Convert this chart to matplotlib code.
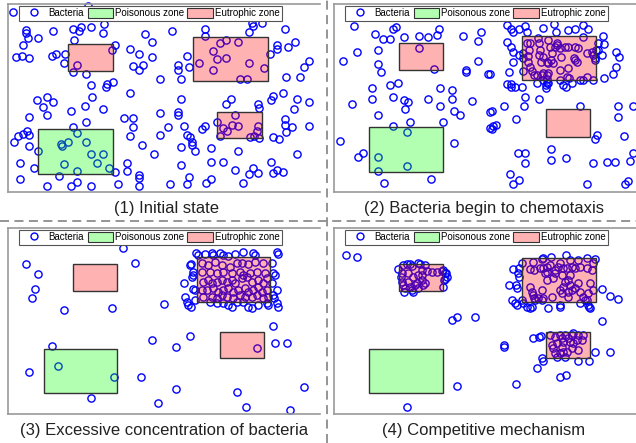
import numpy as np
import matplotlib.pyplot as plt
from matplotlib.patches import Rectangle, Patch
from matplotlib.lines import Line2D

plt.rcParams['font.family'] = ['Liberation Sans', 'DejaVu Sans']

# bacteria positions (x, y) in field units, y measured downward from the top
bacteria_1 = np.array([
    (13, 12), (88, 6), (104, 24), (81, 27), (79, 31), (73, 29), (91, 27), (26, 30), (26, 33), (53, 31),
    (103, 33), (28, 38), (38, 38), (145, 34), (152, 42), (74, 40), (23, 45), (115, 45), (112, 50), (130, 49),
    (16, 57), (22, 56), (29, 58), (52, 56), (56, 54), (65, 54), (139, 54), (152, 57), (64, 63), (77, 65),
    (133, 66), (143, 65), (139, 70), (73, 72), (86, 74), (160, 79), (107, 84), (113, 82), (106, 87), (91, 85),
    (130, 93), (92, 97), (37, 100), (47, 97), (53, 102), (43, 107), (47, 115), (85, 106), (103, 109), (71, 111),
    (160, 113), (29, 117), (124, 118), (133, 118), (86, 122), (133, 127), (73, 127), (168, 127), (27, 131), (23, 134),
    (18, 136), (14, 142), (29, 135), (77, 133), (130, 136), (160, 135), (61, 144), (68, 142), (62, 146), (86, 142),
    (29, 146), (38, 151), (142, 145), (91, 154), (103, 154), (154, 154), (97, 163), (20, 163), (64, 164), (127, 163),
    (127, 171), (34, 168), (77, 171), (109, 168), (115, 172), (59, 176), (139, 175), (139, 178), (20, 179), (77, 182),
    (71, 186), (47, 186), (91, 186), (118, 184), (139, 186), (170, 184),
    (277, 14), (252, 23), (262, 23), (253, 26), (285, 29), (249, 32), (205, 29), (205, 36), (172, 31), (226, 40),
    (220, 43), (238, 42), (213, 51), (217, 59), (226, 58), (199, 63), (249, 63), (213, 70), (264, 68), (240, 79),
    (247, 79), (277, 45), (277, 49), (288, 47), (295, 42), (270, 54), (187, 56), (178, 65), (178, 70), (189, 67),
    (309, 61), (304, 67), (181, 79), (286, 77), (300, 77), (181, 99), (231, 99), (226, 104), (258, 104), (259, 108),
    (271, 100), (273, 96), (283, 93), (297, 99), (309, 102), (294, 109), (178, 112), (178, 115), (235, 115), (217, 122),
    (205, 126), (202, 129), (232, 125), (238, 126), (223, 128), (227, 131), (220, 136), (258, 126), (257, 131), (250, 137),
    (254, 136), (259, 138), (285, 119), (285, 125), (292, 127), (286, 132), (309, 126), (184, 126), (187, 135), (190, 137),
    (192, 142), (192, 145), (195, 151), (181, 147), (211, 148), (238, 151), (273, 137), (279, 139), (297, 154), (211, 162),
    (223, 162), (271, 162), (181, 165), (235, 170), (253, 168), (249, 174), (258, 173), (277, 170), (273, 173), (283, 172),
    (189, 177), (187, 184), (206, 183), (211, 179), (243, 183),
])

bacteria_2 = np.array([
    (354, 26), (393, 29), (396, 27), (375, 34), (383, 39), (390, 39), (404, 37), (419, 36), (428, 37), (437, 35),
    (439, 29), (463, 36), (481, 32), (478, 41), (419, 48), (357, 52), (378, 50), (343, 61), (378, 64), (381, 72),
    (434, 69), (478, 61), (466, 70), (466, 72), (488, 74), (398, 83), (390, 85), (372, 88), (440, 88), (452, 90),
    (372, 99), (393, 97), (404, 100), (408, 102), (405, 109), (428, 99), (452, 99), (352, 104), (440, 106), (472, 101),
    (454, 111), (460, 115), (378, 115), (410, 122), (443, 122), (393, 126), (490, 112), (490, 128), (407, 132), (340, 141),
    (454, 143), (363, 153), (358, 157), (378, 157), (407, 166), (378, 171), (384, 183), (431, 179),
    (507, 25), (511, 29), (513, 32), (519, 29), (525, 26), (527, 32), (543, 28), (554, 24), (556, 32), (568, 30),
    (575, 29), (583, 25), (583, 37), (588, 29), (507, 42), (511, 47), (513, 52), (519, 55), (523, 58), (513, 62),
    (523, 71), (509, 72), (490, 74), (507, 84), (511, 84), (511, 87), (515, 87), (522, 87), (537, 83), (546, 85),
    (546, 88), (548, 83), (563, 85), (566, 87), (572, 83), (583, 80), (593, 80), (604, 78), (613, 74), (616, 67),
    (616, 52), (619, 57), (598, 43), (604, 44), (603, 36), (598, 50), (602, 55), (595, 58), (525, 97), (524, 106),
    (539, 99), (504, 106), (492, 111), (516, 119), (493, 126), (496, 125), (492, 129), (580, 106), (618, 106), (618, 117),
    (633, 106), (597, 135), (595, 139), (624, 136), (518, 153), (525, 153), (525, 163), (551, 149), (551, 160), (566, 158),
    (593, 163), (607, 162), (615, 162), (630, 161), (633, 153), (510, 174), (513, 184), (519, 180), (587, 184), (625, 184),
    (628, 181),
    (527, 43), (529, 50), (528, 56), (528, 62), (530, 67), (532, 71), (534, 75), (539, 43), (540, 50), (539, 55),
    (541, 62), (543, 73), (547, 75), (550, 47), (552, 53), (551, 60), (553, 63), (555, 47), (557, 45), (560, 48),
    (561, 57), (565, 47), (568, 47), (575, 47), (578, 48), (575, 60), (577, 62), (574, 58), (567, 77), (569, 78),
    (560, 80), (592, 52), (593, 55), (596, 50), (595, 60), (587, 77), (580, 80), (523, 53), (537, 75), (542, 75),
    (547, 79), (548, 73), (530, 43), (547, 62), (548, 63), (543, 57), (557, 43), (548, 40), (538, 38), (560, 70),
    (568, 68), (587, 53), (543, 80), (547, 83),
])

bacteria_3 = np.array([
    (123, 248), (26, 264), (135, 263), (38, 274), (35, 289), (32, 298), (64, 310), (112, 308), (164, 304), (152, 340),
    (52, 346), (58, 366), (29, 372), (114, 377), (141, 377), (91, 398), (158, 403),
    (190, 336), (176, 347), (273, 326), (275, 343), (287, 343), (257, 348), (176, 389), (237, 392), (304, 387),
    (246, 407), (290, 410),
    (196, 253), (198, 255), (205, 254), (212, 253), (213, 255), (220, 253), (223, 255), (228, 256), (235, 254), (243, 252),
    (253, 253), (255, 255), (277, 252), (278, 254),
    (191, 264), (193, 272), (192, 277), (193, 275), (184, 283), (193, 289), (195, 290), (185, 297), (187, 302), (188, 305),
    (191, 307), (195, 300), (190, 265),
    (272, 263), (273, 273), (275, 275), (272, 283), (277, 290), (273, 295), (274, 298), (277, 303), (278, 307), (268, 305),
    (210, 302), (217, 303), (223, 303), (228, 305), (232, 307), (237, 302), (243, 302), (248, 307), (252, 308), (258, 305),
    (267, 303),
    (202, 263), (208, 265), (215, 262), (222, 265), (230, 267), (237, 263), (242, 263), (248, 264), (255, 262), (263, 263),
    (202, 272), (210, 272), (217, 273), (223, 272), (232, 273), (240, 272), (243, 275), (250, 273), (257, 272), (265, 273),
    (203, 282), (208, 280), (212, 283), (217, 282), (222, 280), (227, 282), (232, 280), (235, 283), (242, 278), (247, 277),
    (252, 282), (258, 280), (263, 283), (267, 278),
    (202, 290), (207, 290), (213, 288), (218, 292), (223, 290), (228, 288), (233, 292), (238, 290), (245, 288), (248, 292),
    (253, 290), (258, 287), (262, 292), (267, 290),
    (203, 297), (212, 297), (217, 298), (222, 295), (227, 297), (233, 298), (240, 295), (245, 297), (252, 297), (257, 295),
    (263, 298), (268, 297),
])

bacteria_4 = np.array([
    (346, 255), (357, 257), (452, 320), (457, 317), (475, 317), (457, 386), (407, 407),
    (398, 269), (407, 264), (412, 266), (418, 263), (420, 264), (425, 265), (403, 265), (410, 264),
    (422, 270), (427, 271), (432, 272), (437, 272), (442, 271), (445, 273), (447, 277), (445, 279), (446, 273),
    (401, 277), (402, 282), (403, 285), (405, 288), (404, 292), (408, 282), (410, 287), (412, 290), (413, 292), (415, 285),
    (417, 283), (418, 288), (422, 280), (423, 285), (425, 283), (422, 275), (418, 275), (413, 277), (408, 273), (402, 273),
    (443, 287), (443, 270), (444, 280),
    (522, 263), (519, 268), (518, 273), (519, 277), (513, 269), (509, 285), (516, 285), (517, 288), (512, 300), (515, 303),
    (517, 305), (522, 300), (523, 303), (527, 307), (530, 308), (532, 307), (542, 300), (548, 308), (560, 305), (560, 307),
    (580, 303), (587, 300), (588, 305), (590, 308), (589, 307), (602, 289), (610, 296), (618, 299), (595, 259), (566, 255),
    (551, 257), (543, 258), (602, 321),
    (530, 269), (534, 270), (540, 268), (543, 268), (547, 267), (547, 272), (555, 270), (558, 267), (563, 268), (567, 268),
    (572, 267), (575, 268), (580, 267), (587, 268), (592, 270), (593, 263), (587, 258), (578, 260), (570, 260), (560, 263),
    (550, 265), (542, 259), (533, 262),
    (530, 287), (532, 292), (533, 295), (534, 298), (535, 300), (538, 298), (542, 290), (543, 298), (552, 297), (560, 290),
    (562, 293), (563, 287), (565, 282), (568, 280), (570, 285), (568, 292), (568, 297), (572, 290), (575, 288), (578, 283),
    (580, 292), (583, 297), (585, 300), (588, 293), (590, 283), (593, 290), (570, 275), (562, 275), (555, 273), (553, 278),
    (547, 280), (545, 273),
    (533, 338), (539, 337), (541, 336), (504, 345), (504, 347), (595, 352), (610, 352), (557, 357), (565, 357), (578, 361),
    (589, 361), (542, 358), (543, 361), (537, 368), (560, 377), (566, 375), (516, 384),
    (550, 335), (555, 337), (560, 335), (562, 338), (565, 335), (568, 338), (572, 335), (573, 333), (578, 335), (583, 335),
    (582, 340), (577, 340), (570, 342), (563, 342), (557, 343), (552, 345), (562, 347), (563, 352), (560, 353), (567, 352),
    (572, 348), (578, 350), (555, 353), (553, 348), (573, 343),
])

# zones: (x0, y0, width, height)
poison_1 = [(38, 129, 75, 45)]
eutro_1 = [(68, 44, 45, 27), (193, 37, 75, 44), (217, 112, 45, 26)]
poison_2 = [(369, 127, 74, 45)]
eutro_2 = [(399, 43, 44, 27), (522, 36, 74, 44), (546, 109, 44, 28)]
poison_3 = [(44, 349, 73, 44)]
eutro_3 = [(73, 264, 44, 27), (197, 257, 73, 45), (220, 332, 44, 26)]
poison_4 = [(369, 349, 74, 44)]
eutro_4 = [(399, 264, 44, 27), (522, 258, 74, 44), (546, 332, 44, 26)]

captions = ['(1) Initial state', '(2) Bacteria begin to chemotaxis',
            '(3) Excessive concentration of bacteria', '(4) Competitive mechanism']

W, H = 636, 443
fig = plt.figure(figsize=(W / 100, H / 100), dpi=100)


def panel(rect, lims, pts, poison, eutro, caption, cap_x):
    left, top, right, bottom = rect
    ax = fig.add_axes([left / W, 1 - bottom / H, (right - left) / W, (bottom - top) / H])
    ax.set_xlim(lims[0], lims[1])
    ax.set_ylim(lims[3], lims[2])
    ax.set_xticks([])
    ax.set_yticks([])
    for s in ['left', 'top', 'bottom']:
        ax.spines[s].set_color('#9a9a9a')
        ax.spines[s].set_linewidth(1.2)
    ax.spines['right'].set_visible(False)

    ax.plot(pts[:, 0], pts[:, 1], 'o', mfc='none', mec='blue', ms=5.2, mew=1.0,
            clip_on=False, zorder=2)
    for x0, y0, w, h in poison:
        ax.add_patch(Rectangle((x0, y0), w, h, facecolor=(0, 1, 0, 0.3),
                               edgecolor='#333333', lw=1.0, zorder=3))
    for x0, y0, w, h in eutro:
        ax.add_patch(Rectangle((x0, y0), w, h, facecolor=(1, 0, 0, 0.3),
                               edgecolor='#333333', lw=1.0, zorder=3))

    handles = [
        Line2D([], [], ls='none', marker='o', mfc='none', mec='blue', ms=5, mew=1.0),
        Patch(facecolor=(0, 1, 0, 0.3), edgecolor='#333333', lw=0.8),
        Patch(facecolor=(1, 0, 0, 0.3), edgecolor='#333333', lw=0.8),
    ]
    leg = ax.legend(handles, ['Bacteria', 'Poisonous zone', 'Eutrophic zone'], ncol=3,
                    loc='upper left', bbox_to_anchor=(11 / (right - left), 1 - 2 / (bottom - top)),
                    fontsize=7, frameon=True, fancybox=False, framealpha=1,
                    edgecolor='#555555', borderpad=0.25, handlelength=2.6, handleheight=1.1,
                    handletextpad=0.2, columnspacing=0.35, borderaxespad=0)
    leg.get_frame().set_linewidth(0.8)
    leg.set_zorder(5)

    fig.text(cap_x / W, 1 - (bottom + 17) / H, caption, ha='center', va='center',
             fontsize=12, color='#222222')


panel((8, 4, 320, 192), (8, 320, 4, 192), bacteria_1, poison_1, eutro_1, captions[0], 166)
panel((334, 4, 640, 192), (334, 640, 4, 192), bacteria_2, poison_2, eutro_2, captions[1], 484)
panel((8, 228, 320, 414), (8, 320, 228, 414), bacteria_3, poison_3, eutro_3, captions[2], 164)
panel((334, 228, 640, 414), (334, 640, 228, 414), bacteria_4, poison_4, eutro_4, captions[3], 484)

# dashed separators between the four panels
fig.add_artist(Line2D([327 / W, 327 / W], [0, 1], transform=fig.transFigure,
                      color='#8c8c8c', lw=1.3, ls=(0, (5, 3))))
fig.add_artist(Line2D([0, 1], [1 - 221 / H, 1 - 221 / H], transform=fig.transFigure,
                      color='#8c8c8c', lw=1.3, ls=(0, (5, 3))))

fig.savefig('out.png', dpi=100)
